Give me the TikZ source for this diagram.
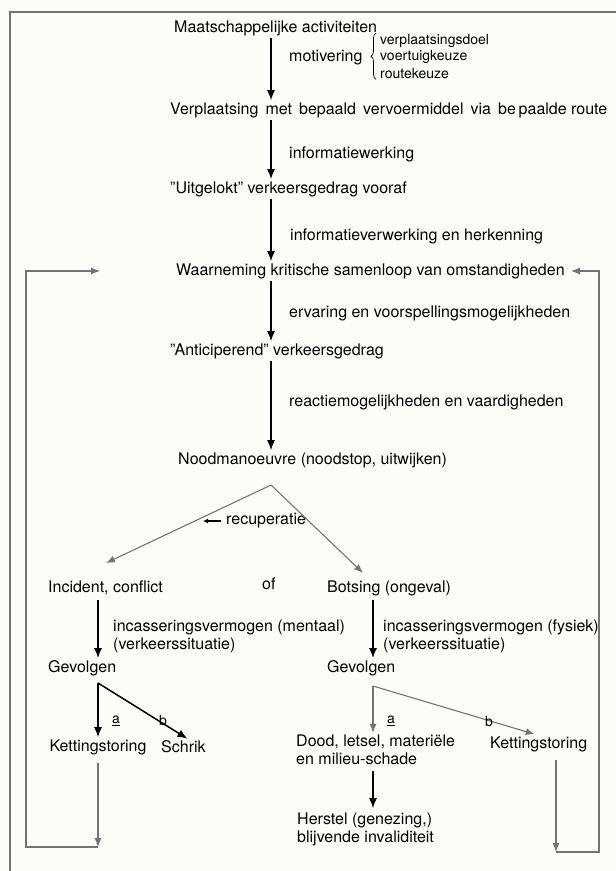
\documentclass[tikz,border=0pt]{standalone}
\usepackage{fontspec}
\setmainfont{TeX Gyre Heros}
\usetikzlibrary{positioning,arrows.meta,calc,decorations.pathreplacing}
\definecolor{paper}{RGB}{253,253,248}
\definecolor{lijn}{RGB}{115,115,115}

\begin{document}
\begin{tikzpicture}[x=1pt, y=-1pt, font=\fontsize{16}{18}\selectfont,
  txt/.style={anchor=west, inner sep=2pt, align=left},
  lbl/.style={anchor=west, inner sep=0pt, align=left},
  klein/.style={font=\fontsize{14}{16}\selectfont, inner sep=1pt},
  arr/.style={-{Latex[length=10pt,width=8pt]}, line width=1.5pt},
  garr/.style={-{Latex[length=9pt,width=7pt]}, draw=lijn, line width=1.1pt},
  gl/.style={draw=lijn, line width=1.1pt}]
\fill[paper] (0,0) rectangle (616,871);
\useasboundingbox (0,0) rectangle (616,871);
% kader
\draw[gl] (10,871) -- (10,12) -- (616,12);
% hoofdketen
\coordinate (sp) at (271,0);
\coordinate (rs) at (373,0);
\node[txt] (ma) at (172,28) {Maatschappelijke activiteiten};
\node[lbl] (mot) at (289,58) {motivering};
\node[lbl, klein] (vd) at (379,41) {verplaatsingsdoel};
\node[lbl, klein] (vk) at (379,57) {voertuigkeuze};
\node[lbl, klein] (rk) at (379,73) {routekeuze};
\draw[decorate, decoration={brace, amplitude=5pt}, line width=0.7pt]
  ([xshift=-3pt]rk.south west) -- ([xshift=-3pt]vd.north west);
\node[txt] (vp) at (168,110) {Verplaatsing\ \,met\ \,bepaald\ \,vervoermiddel\ \,via\ \,be\,paalde route};
\node[lbl] (iw) at (289,154) {informatiewerking};
\node[txt] (ug) at (168,189) {"Uitgelokt" verkeersgedrag vooraf};
\node[lbl] (iv) at (290,236) {informatieverwerking en herkenning};
\node[txt] (wn) at (174,271) {Waarneming kritische samenloop van omstandigheden};
\node[lbl] (ev) at (289,313) {ervaring en voorspellingsmogelijkheden};
\node[txt] (an) at (168,351) {"Anticiperend" verkeersgedrag};
\node[lbl] (rv) at (289,402) {reactiemogelijkheden en vaardigheden};
\node[txt] (nm) at (176,460) {Noodmanoeuvre (noodstop, uitwijken)};
\draw[arr] (ma.south -| sp) -- (vp.north -| sp);
\draw[arr] (vp.south -| sp) -- (ug.north -| sp);
\draw[arr] (ug.south -| sp) -- (wn.north -| sp);
\draw[arr] (wn.south -| sp) -- (an.north -| sp);
\draw[arr] (an.south -| sp) -- (nm.north -| sp);
% splitsing
\coordinate (ap) at (271,485);
\coordinate (tl) at (106,563);
\coordinate (tr) at (363,573);
\node[lbl] (rc) at (226,521) {recuperatie};
\coordinate (rcp) at (203,521);
\draw[-{Latex[length=5pt,width=5pt]}, line width=1.6pt] (rc.west) ++(-5,0) -- (rcp);
\draw[garr] (ap) -- (tl);
\draw[garr] (ap) -- (tr);
\node[txt] (inc) at (46,588) {Incident, conflict};
\node[txt] (of) at (260,584) {of};
\node[txt] (bot) at (325,588) {Botsing (ongeval)};
\node[lbl] (im) at (113,636) {incasseringsvermogen (mentaal)\\(verkeerssituatie)};
\node[lbl] (if) at (383,636) {incasseringsvermogen (fysiek)\\(verkeerssituatie)};
\node[txt] (gvl) at (46,668) {Gevolgen};
\node[txt] (gvr) at (325,668) {Gevolgen};
\node[inner sep=2pt] (kl) at (98,747) {Kettingstoring};
\node[txt] (sch) at (159,747) {Schrik};
\node[txt] (dd) at (294,750) {Dood, letsel, materiële\\en milieu-schade};
\node[txt] (kr) at (488,744) {Kettingstoring};
\node[txt] (hs) at (295,829) {Herstel (genezing,)\\blijvende invaliditeit};
\draw[arr] (im.west -| kl) ++(0,-36) -- (gvl.north -| kl);
\draw[arr] (if.west -| rs) ++(0,-36) -- (gvr.north -| rs);
% gevolgen links
\coordinate (gl0) at (98,683);
\draw[arr] (gl0) -- (kl.north);
\draw[arr] (gl0) -- ([xshift=4pt]sch.north);
\node[klein] (la) at (116,721) {\underline{a}};
\node[klein] (lb) at (163,720) {b};
% gevolgen rechts
\coordinate (gr0) at (373,686);
\draw[garr] (gr0) -- (dd.north -| rs);
\draw[garr] (gr0) -- ([xshift=-4pt]kr.north);
\node[klein] (ra) at (391,721) {\underline{a}};
\node[klein] (rb) at (489,721) {b};
\draw[arr] ([yshift=-4pt]dd.south -| rs) -- ([yshift=2pt]hs.north -| rs);
% terugkoppelingen
\coordinate (lo) at (98,847);
\coordinate (lt) at (100,271);
\draw[garr] ([yshift=-6pt]kl.south) -- (lo);
\draw[garr] (lo) -- (26,847) -- (26,271) -- (lt);
\coordinate (ro) at (556,852);
\draw[garr] ([yshift=-6pt]kr.south -| ro) -- (ro);
\draw[garr] (ro) -- (599,852) -- (599,271) -- ([xshift=4pt]wn.east);
\end{tikzpicture}
\end{document}
